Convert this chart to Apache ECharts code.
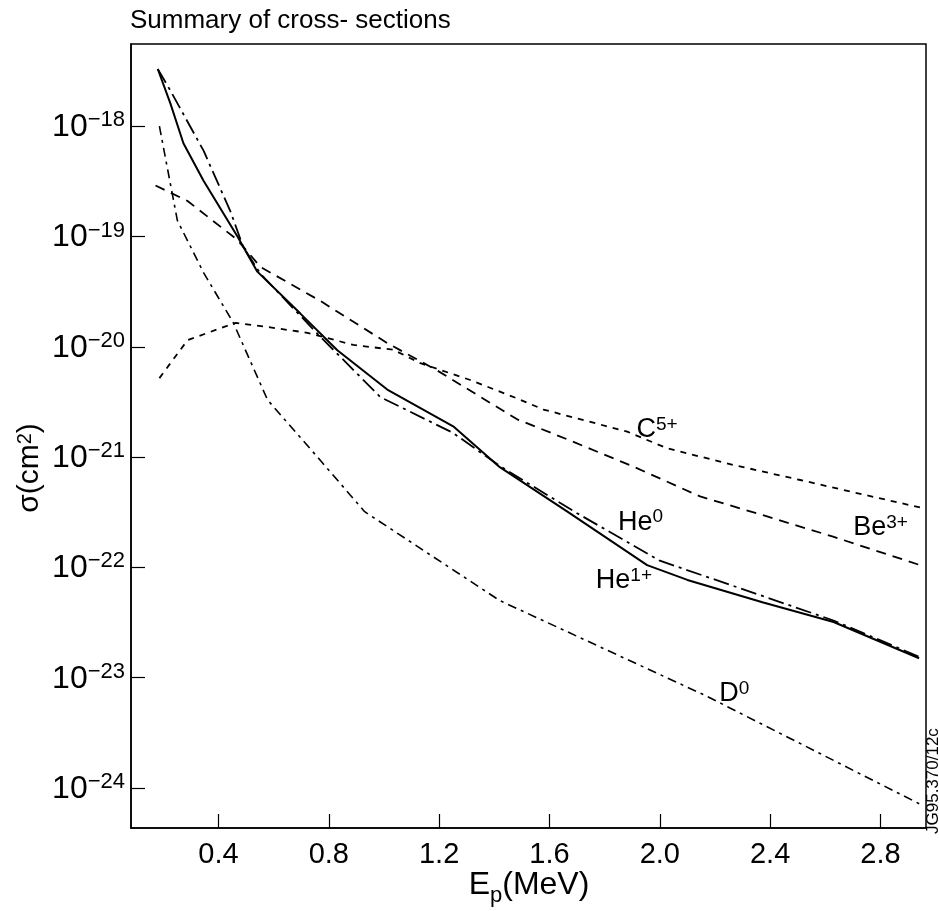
<!DOCTYPE html>
<html><head><meta charset="utf-8">
<script src="https://cdn.jsdelivr.net/npm/echarts@6/dist/echarts.min.js"></script>
<style>html,body{margin:0;padding:0;background:#fff}#c{width:939px;height:911px}</style>
</head><body><div id="c"></div>
<script>
// ---- data ----
const xTicks = [0.4, 0.8, 1.2, 1.6, 2.0, 2.4, 2.8];
const yTicks = [1e-24, 1e-23, 1e-22, 1e-21, 1e-20, 1e-19, 1e-18];

const he1E = [0.18, 0.226, 0.273, 0.346, 0.469, 0.541, 0.697, 0.831, 1.012, 1.251, 1.42, 1.665, 1.954, 2.10, 2.375, 2.63, 2.94];
const he1S = [3.3e-18, 1.6e-18, 7e-19, 3.2e-19, 1e-19, 4.8e-20, 2.0e-20, 9.3e-21, 4.1e-21, 1.9e-21, 8.1e-22, 3.2e-22, 1.05e-22, 7.7e-23, 4.8e-23, 3.2e-23, 1.5e-23];

const he0E = [0.18, 0.226, 0.346, 0.443, 0.49, 0.552, 0.77, 0.987, 1.25, 1.42, 1.70, 2.0, 2.266, 2.63, 2.94];
const he0S = [3.3e-18, 2.1e-18, 6e-19, 1.7e-19, 8e-20, 4.6e-20, 1.23e-20, 3.5e-21, 1.66e-21, 8.3e-22, 3.1e-22, 1.15e-22, 6.8e-23, 3.3e-23, 1.55e-23];

const c5E = [0.186, 0.288, 0.462, 0.588, 0.722, 0.889, 1.034, 1.132, 1.313, 1.483, 1.578, 1.882, 2.027, 2.266, 2.509, 2.75, 2.943];
const c5S = [5.2e-21, 1.15e-20, 1.65e-20, 1.5e-20, 1.34e-20, 1.04e-20, 9.4e-21, 7.1e-21, 5.0e-21, 3.4e-21, 2.7e-21, 1.7e-21, 1.2e-21, 8.5e-22, 6.2e-22, 4.5e-22, 3.5e-22];

const be3E = [0.172, 0.288, 0.469, 0.552, 0.77, 1.012, 1.193, 1.483, 1.664, 1.904, 2.146, 2.389, 2.628, 2.943];
const be3S = [2.9e-19, 2.1e-19, 9.3e-20, 5.3e-20, 2.6e-20, 1.08e-20, 6.1e-21, 2.2e-21, 1.45e-21, 8.2e-22, 4.4e-22, 2.9e-22, 1.9e-22, 1.05e-22];

const d0E = [0.186, 0.251, 0.346, 0.454, 0.578, 0.77, 0.93, 1.42, 1.784, 2.17, 2.95];
const d0S = [1.0e-18, 1.4e-19, 4.7e-20, 1.65e-20, 3.3e-21, 9.3e-22, 3.2e-22, 5e-23, 1.9e-23, 6.8e-24, 7e-25];

// curve labels (data coords) and texts
const labelText = ['C{s|5+}', 'Be{s|3+}', 'He{s|0}', 'He{s|1+}', 'D{s|0}'];
const labelE = [1.99, 2.80, 1.93, 1.87, 2.27];
const labelS = [1.8e-21, 2.3e-22, 2.6e-22, 7.7e-23, 7.2e-24];

// ---- chart ----
const FONT = '"Liberation Sans", Arial, sans-serif';
const NARROW = '"Liberation Sans Narrow", "Liberation Sans", Arial, sans-serif';
const pairs = (xs, ys) => xs.map((x, i) => [x, ys[i]]);

function supRich(base, sup, font) {
  return {
    b: { fontSize: base, lineHeight: Math.round(base * 1.05), fontFamily: font, color: '#000', verticalAlign: 'bottom' },
    s: { fontSize: sup, lineHeight: Math.round(sup * 0.75), fontFamily: font, color: '#000', verticalAlign: 'top' }
  };
}

function lineSeries(name, xs, ys, type, width) {
  return {
    name, type: 'line', data: pairs(xs, ys), symbol: 'none', smooth: false,
    lineStyle: { color: '#000', width: width, type: type }, z: 3
  };
}

const labelSeries = {
  type: 'scatter', symbolSize: 0, silent: true,
  itemStyle: { opacity: 1, color: '#000' },
  data: labelE.map((x, i) => ({ value: [x, labelS[i]], name: labelText[i] })),
  label: {
    show: true, position: 'inside', color: '#000', opacity: 1,
    formatter: p => '{b|' + p.name.replace('{s|', '}{s|'),
    rich: supRich(27, 19, FONT)
  },
  z: 5
};

const option = {
  backgroundColor: '#fff',
  animation: false,
  title: {
    text: 'Summary of cross- sections', left: 125, top: 3,
    textStyle: { fontFamily: FONT, fontSize: 26, fontWeight: 'normal', color: '#000' }
  },
  grid: {
    left: 131, right: 13, top: 44, bottom: 83, show: true, borderColor: '#000', borderWidth: 1.5,
    containLabel: false, outerBoundsMode: 'none'
  },
  xAxis: {
    type: 'value', min: 0.083, max: 2.965,
    axisLine: { show: true, lineStyle: { color: '#000', width: 1.5 } },
    axisTick: { show: true, inside: true, length: 14, lineStyle: { color: '#000', width: 1.2 }, customValues: xTicks },
    axisLabel: {
      fontFamily: NARROW, fontSize: 29, color: '#000', margin: 12, customValues: xTicks,
      formatter: v => v.toFixed(1)
    },
    splitLine: { show: false }
  },
  yAxis: {
    type: 'log', logBase: 10, min: 4.34e-25, max: 5.56e-18,
    axisLine: { show: true, lineStyle: { color: '#000', width: 1.5 } },
    axisTick: { show: true, inside: true, length: 14, lineStyle: { color: '#000', width: 1.2 }, customValues: yTicks },
    axisLabel: {
      margin: 6, customValues: yTicks,
      formatter: v => '{b|10}{s|−' + Math.round(-Math.log10(v)) + '}',
      rich: supRich(32, 22, FONT)
    },
    splitLine: { show: false }
  },
  series: [
    lineSeries('He1+', he1E, he1S, 'solid', 2),
    lineSeries('He0', he0E, he0S, [16, 5, 3, 5], 1.8),
    lineSeries('C5+', c5E, c5S, [6, 6], 1.8),
    lineSeries('Be3+', be3E, be3S, [10, 7], 1.8),
    lineSeries('D0', d0E, d0S, [9, 5, 3, 5], 1.6),
    labelSeries
  ],
  graphic: [
    {
      type: 'text', x: 529, y: 869,
      style: {
        text: '{a|E}{p|p}{a|(MeV)}', align: 'center', verticalAlign: 'top',
        rich: {
          a: { fontFamily: NARROW, fontSize: 32, lineHeight: 34, verticalAlign: 'top', fill: '#000' },
          p: { fontFamily: NARROW, fontSize: 22, lineHeight: 22, padding: [16, 0, 0, 0], verticalAlign: 'top', fill: '#000' }
        }
      }
    },
    {
      type: 'text', x: 30, y: 468, rotation: Math.PI / 2,
      style: {
        text: 'σ(cm{s|2})', align: 'center', verticalAlign: 'middle',
        fontFamily: FONT, fontSize: 30, fill: '#000',
        rich: { s: { fontSize: 20, lineHeight: 14, verticalAlign: 'top', fontFamily: FONT, fill: '#000' } }
      }
    },
    {
      type: 'text', x: 933, y: 834, rotation: Math.PI / 2,
      style: { text: 'JG95.370/12c', align: 'left', verticalAlign: 'middle', fontFamily: FONT, fontSize: 17, fill: '#000' }
    }
  ]
};

const chart = echarts.init(document.getElementById('c'), null, { renderer: 'canvas' });
chart.setOption(option);
</script>
</body></html>
